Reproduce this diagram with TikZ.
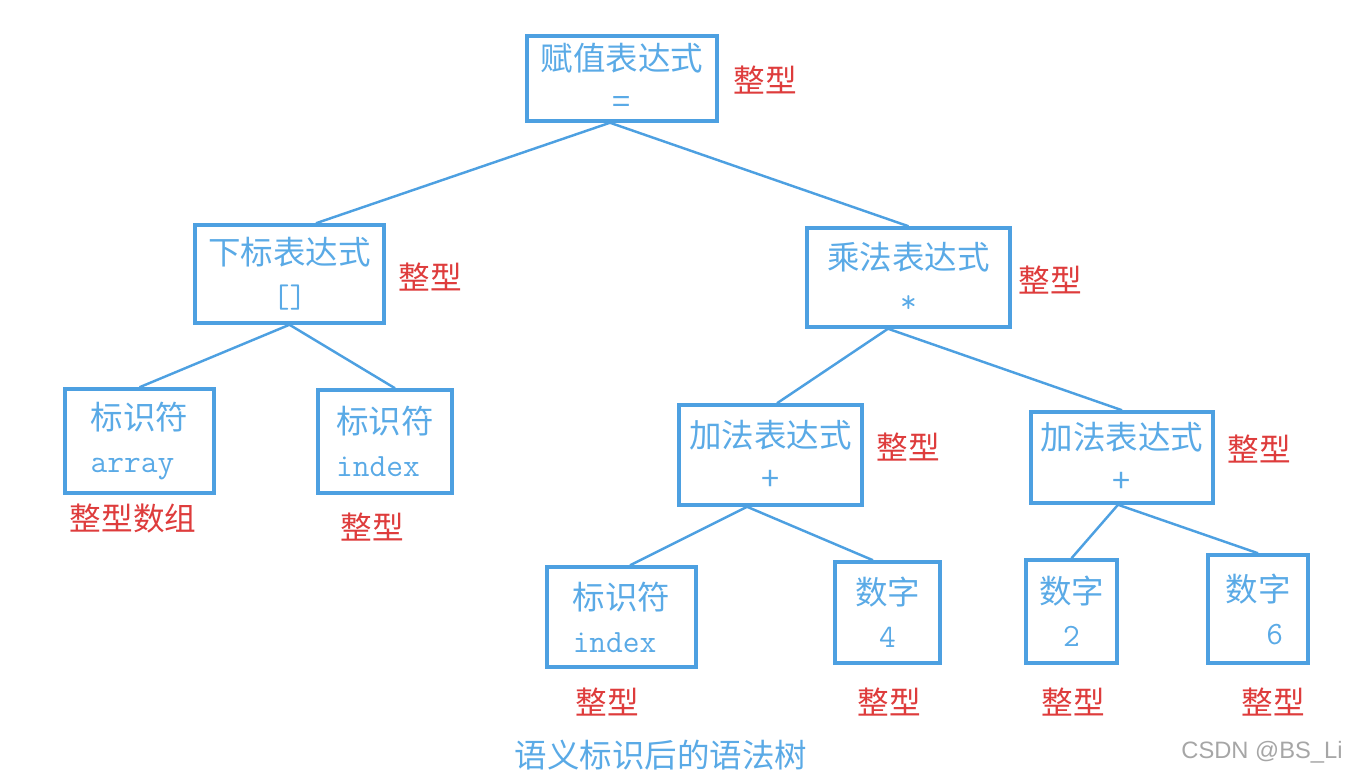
\documentclass[tikz,border=0pt]{standalone}
\usepackage{fontspec}
\newfontfamily\cjk{Noto Sans CJK SC}
\newfontfamily\wmfont{Liberation Sans}
\definecolor{treeblue}{RGB}{77,160,225}
\definecolor{textblue}{RGB}{90,170,230}
\definecolor{typered}{RGB}{222,60,60}

\begin{document}
\begin{tikzpicture}[x=0.02cm, y=-0.02cm,
        box/.style={draw=treeblue, line width=2pt, text=textblue, align=center, inner sep=0pt,
            font=\cjk\fontsize{18.5}{24.5}\selectfont},
        typ/.style={text=typered, font=\cjk\fontsize{18}{20}\selectfont},
        edge/.style={draw=treeblue, line width=1.4pt}]
        \useasboundingbox (0,0) rectangle (1346,776);

        % Draw nodes
        \node[box, minimum width=3.8cm, minimum height=1.7cm] (root) at (622,78.5) {赋值表达式\\=};
        \node[box, minimum width=3.78cm, minimum height=1.96cm] (sub) at (289.5,274) {下标表达式\\{\ttfamily[]}};
        \node[box, minimum width=4.06cm, minimum height=1.98cm] (mul) at (908.5,277.5) {乘法表达式\\{\ttfamily*}};
        \node[box, align=left, minimum width=2.98cm, minimum height=2.08cm] (arr) at (139.5,441) {标识符\\{\ttfamily array}};
        \node[box, align=left, minimum width=2.68cm, minimum height=2.06cm] (idxa) at (385,441.5) {标识符\\{\ttfamily index}};
        \node[box, minimum width=3.66cm, minimum height=2cm] (addl) at (770.5,455) {加法表达式\\+};
        \node[box, minimum width=3.64cm, minimum height=1.82cm] (addr) at (1122,457.5) {加法表达式\\+};
        \node[box, align=left, minimum width=2.98cm, minimum height=2cm] (idxb) at (621.5,617) {标识符\\{\ttfamily index}};
        \node[box, minimum width=2.1cm, minimum height=2.02cm] (num4) at (887.5,612.5) {数字\\{\ttfamily 4}};
        \node[box, minimum width=1.82cm, minimum height=2.06cm] (num2) at (1071.5,611.5) {数字\\{\ttfamily 2}};
        \node[box, minimum width=2cm, minimum height=2.16cm] (num6) at (1258,609) {数字\\{\ttfamily\ \ 6}};

        % Draw connections
        \draw[edge] ([xshift=-0.24cm]root.south) -- ([xshift=0.53cm]sub.north);
        \draw[edge] ([xshift=-0.24cm]root.south) -- (mul.north);
        \draw[edge] (sub.south) -- (arr.north);
        \draw[edge] (sub.south) -- ([xshift=0.2cm]idxa.north);
        \draw[edge] ([xshift=-0.41cm]mul.south) -- ([xshift=0.13cm]addl.north);
        \draw[edge] ([xshift=-0.41cm]mul.south) -- (addr.north);
        \draw[edge] ([xshift=-0.47cm]addl.south) -- ([xshift=0.17cm]idxb.north);
        \draw[edge] ([xshift=-0.47cm]addl.south) -- ([xshift=-0.29cm]num4.north);
        \draw[edge] ([xshift=-0.08cm]addr.south) -- (num2.north);
        \draw[edge] ([xshift=-0.08cm]addr.south) -- (num6.north);

        % Labels
        \node[typ] (troot) at (765,80) {整型};
        \node[typ] (tsub) at (430,277) {整型};
        \node[typ] (tmul) at (1050,280) {整型};
        \node[typ] (tarr) at (133,519) {整型数组};
        \node[typ] (tidxa) at (372,527) {整型};
        \node[typ] (taddl) at (908,447) {整型};
        \node[typ] (taddr) at (1259,449) {整型};
        \node[typ] (tidxb) at (607,702) {整型};
        \node[typ] (tnum4) at (889,702) {整型};
        \node[typ] (tnum2) at (1073,702) {整型};
        \node[typ] (tnum6) at (1273,702) {整型};

        \node[text=textblue, font=\cjk\fontsize{18.5}{20}\selectfont] (caption) at (661,755) {语义标识后的语法树};
        \node[text=gray!70, font=\wmfont\fontsize{13.5}{15}\selectfont] (mark) at (1262,752) {CSDN @BS\_Li};
    \end{tikzpicture}
\end{document}
